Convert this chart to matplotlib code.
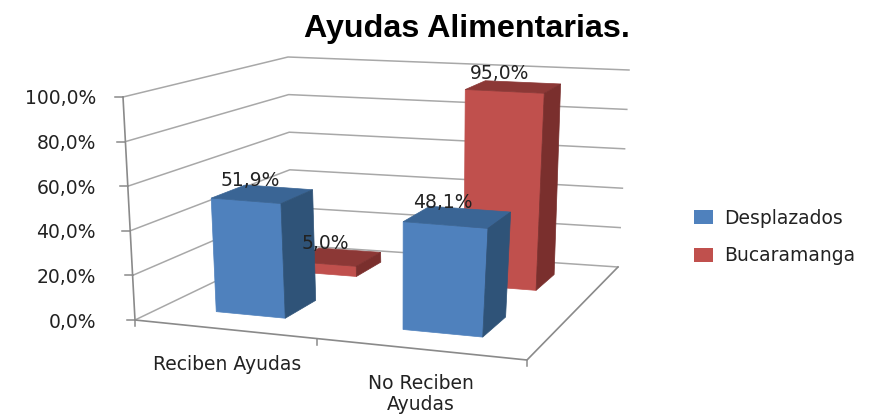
import numpy as np
import matplotlib
matplotlib.use('Agg')
import matplotlib.pyplot as plt
from matplotlib.patches import Polygon, Patch

# data
categories = ['Reciben Ayudas', 'No Reciben\nAyudas']
series_names = ['Desplazados', 'Bucaramanga']
desplazados = [51.9, 48.1]
bucaramanga = [5.0, 95.0]
value_labels = ['51,9%', '48,1%', '5,0%', '95,0%']
value_ticks = [0, 20, 40, 60, 80, 100]
tick_labels = ['0,0%', '20,0%', '40,0%', '60,0%', '80,0%', '100,0%']

# Corners of the 3D box in image pixels: front-left, front-right, back-right, back-left
floor_px = [(135, 320), (527, 360), (618, 267), (291, 245)]
top_px = [(123, 97), (550, 127), (629, 70), (288, 57)]


def homography(dst):
    src = [(0, 0), (1, 0), (1, 1), (0, 1)]
    rows = []
    rhs = []
    for (u, v), (x, y) in zip(src, dst):
        rows.append([u, v, 1, 0, 0, 0, -u * x, -v * x])
        rows.append([0, 0, 0, u, v, 1, -u * y, -v * y])
        rhs += [x, y]
    return np.append(np.linalg.solve(np.array(rows, float), np.array(rhs, float)), 1).reshape(3, 3)


H_floor = homography(floor_px)
H_top = homography(top_px)


def project(u, v, h):
    # u across the categories, v front to back, h in percent
    p0 = H_floor @ [u, v, 1]
    p1 = H_top @ [u, v, 1]
    p0 = p0[:2] / p0[2]
    p1 = p1[:2] / p1[2]
    return p0 + (p1 - p0) * h / 100


def drawBar(ax, u0, v0, value, front, top, side):
    u1 = u0 + 0.195
    v1 = v0 + 0.2
    faces = [
        ([(u0, v0, 0), (u1, v0, 0), (u1, v0, value), (u0, v0, value)], front),
        ([(u0, v0, value), (u1, v0, value), (u1, v1, value), (u0, v1, value)], top),
        ([(u1, v0, 0), (u1, v1, 0), (u1, v1, value), (u1, v0, value)], side),
    ]
    for pts, color in faces:
        ax.add_patch(Polygon([project(*p) for p in pts], closed=True, facecolor=color,
                             edgecolor=color, linewidth=0.5, zorder=3))


fig = plt.figure(figsize=(8.77, 4.16), dpi=100)
ax = fig.add_axes([0, 0, 1, 1])
ax.set_xlim(0, 877)
ax.set_ylim(416, 0)
ax.axis('off')

grid_color = '#a8a8a8'
axis_color = '#8a8a8a'

# walls
for val, lab in zip(value_ticks, tick_labels):
    pts = np.array([project(0, 0, val), project(0, 1, val), project(1, 1, val)])
    ax.plot(pts[:, 0], pts[:, 1], color=grid_color, lw=1.1, zorder=1)
    ax.plot([pts[0, 0] - 8, pts[0, 0]], [pts[0, 1], pts[0, 1]], color=axis_color, lw=1.1, zorder=2)
    ax.text(96, pts[0, 1] + 2, lab, ha='right', va='center', fontsize=13.5, color='#222222')

# floor edges and axes
pts = np.array([project(0, 0, 0), project(1, 0, 0), project(1, 1, 0)])
ax.plot(pts[:, 0], pts[:, 1], color=axis_color, lw=1.2, zorder=2)
pts = np.array([project(0, 0, 0), project(0, 0, 100)])
ax.plot(pts[:, 0], pts[:, 1], color=axis_color, lw=1.2, zorder=2)
for u in [0, 0.5, 1]:
    p = project(u, 0, 0)
    ax.plot([p[0], p[0]], [p[1], p[1] + 6], color=axis_color, lw=1.1, zorder=2)

# bars, back row first
blue = ('#4f81bd', '#3a6595', '#2f5378')
red = ('#c0504d', '#8c3836', '#7a2f2d')
for i, val in enumerate(bucaramanga):
    drawBar(ax, 0.158 + 0.505 * i, 0.65, val, *red)
for i, val in enumerate(desplazados):
    drawBar(ax, 0.158 + 0.505 * i, 0.15, val, *blue)

# value labels above the bars
label_vals = [(0, 0.15, desplazados[0]), (1, 0.15, desplazados[1]),
              (0, 0.65, bucaramanga[0]), (1, 0.65, bucaramanga[1])]
for (i, v0, val), lab in zip(label_vals, value_labels):
    p = project(0.25 + 0.5 * i, v0 + 0.1, val)
    ax.annotate(lab, xy=p, xytext=(-10, 4), textcoords='offset pixels', ha='center', va='bottom',
                fontsize=13.5, color='#222222', zorder=5)

# category labels
ax.text(227, 365, categories[0], ha='center', va='center', fontsize=13.5, color='#222222')
ax.text(421, 394, categories[1], ha='center', va='center', fontsize=13.5, color='#222222',
        linespacing=1.15)

ax.text(467, 29, 'Ayudas Alimentarias.', ha='center', va='center', fontsize=23.2,
        fontweight='bold', family='Liberation Sans', color='black')

handles = [Patch(facecolor=blue[0], label=series_names[0]),
           Patch(facecolor=red[0], label=series_names[1])]
ax.legend(handles=handles, loc='center left', bbox_to_anchor=(694 / 877, 1 - 237 / 416),
          frameon=False, fontsize=13.5, handlelength=1, handleheight=0.8, labelspacing=1.0,
          handletextpad=0.6, borderpad=0, borderaxespad=0, labelcolor='#222222')

fig.savefig('out.png', dpi=100)
